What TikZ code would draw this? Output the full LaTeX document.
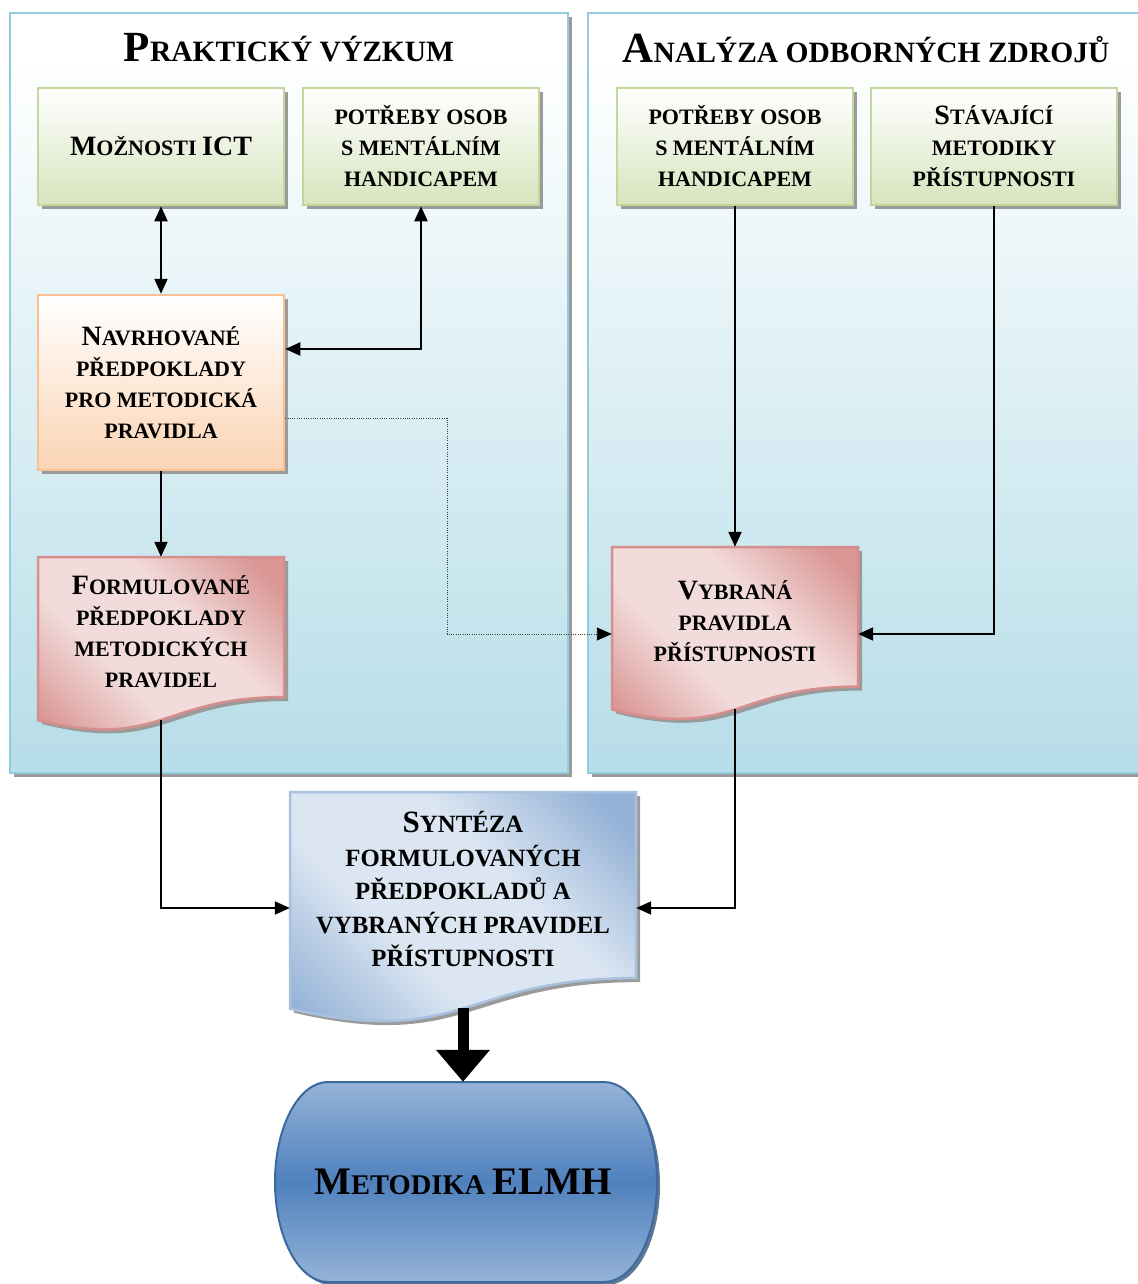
\documentclass[tikz,border=0pt]{standalone}
\usepackage{fontspec}
\setmainfont{Liberation Serif}
\usetikzlibrary{arrows.meta,calc,shadows}

\definecolor{panelB}{HTML}{B6DDE8}
\definecolor{panelD}{HTML}{93CDDD}
\definecolor{greenB}{HTML}{D7E4BD}
\definecolor{greenD}{HTML}{C3D69B}
\definecolor{orangeB}{HTML}{FBD4B4}
\definecolor{orangeD}{HTML}{FAC090}
\definecolor{pinkL}{HTML}{F2DCDB}
\definecolor{pinkD}{HTML}{D99694}
\definecolor{pinkE}{HTML}{D68F8D}
\definecolor{blueL}{HTML}{DCE6F2}
\definecolor{blueD}{HTML}{95B3D7}
\definecolor{blueE}{HTML}{A9C1DE}
\definecolor{elmhL}{HTML}{95B3D7}
\definecolor{elmhD}{HTML}{4F81BD}
\definecolor{elmhE}{HTML}{3D6A9E}
\definecolor{shd}{HTML}{9A9A9A}

\pgfdeclarehorizontalshading{pinkrefl}{100bp}{color(0bp)=(pinkD); color(20bp)=(pinkD); color(40bp)=(pinkL); color(60bp)=(pinkL); color(80bp)=(pinkD); color(100bp)=(pinkD)}
\pgfdeclarehorizontalshading{bluerefl}{100bp}{color(0bp)=(blueD); color(20bp)=(blueD); color(40bp)=(blueL); color(60bp)=(blueL); color(80bp)=(blueD); color(100bp)=(blueD)}
\pgfdeclareverticalshading{panelfill}{100bp}{color(0bp)=(panelB); color(25bp)=(panelB); color(72bp)=(white); color(100bp)=(white)}

% fake small caps: capital letters at full size
\newcommand\Bc[1]{{\fontsize{28}{31}\selectfont #1}}
\newcommand\Tb[1]{{\fontsize{43}{48}\selectfont #1}}
\newcommand\Sb[1]{{\fontsize{31}{34}\selectfont #1}}
\newcommand\Eb[1]{{\fontsize{39}{44}\selectfont #1}}

\begin{document}
\begin{tikzpicture}[x=1pt,y=1pt,
  tip/.style={Triangle[length=15pt,width=13pt]},
  conn/.style={line width=2pt, -{Triangle[length=15pt,width=13pt]}},
  conntwo/.style={line width=2pt, {Triangle[length=15pt,width=13pt]}-{Triangle[length=15pt,width=13pt]}},
  dotconn/.style={line width=0.9pt, draw=black!75, dash pattern=on 1pt off 1.3pt,
    -{Triangle[length=15pt,width=13pt,color=black]}},
  bigarrow/.style={line width=11pt, -{Triangle[length=32pt,width=52pt]}},
  txt/.style={font=\fontsize{22}{31}\selectfont\bfseries, align=center, inner sep=0pt},
  ttl/.style={font=\fontsize{29.5}{34}\selectfont\bfseries, inner sep=0pt},
  greenbox/.style={txt, draw=greenD, line width=2.5pt, top color=white, bottom color=greenB,
    minimum height=117pt, general shadow={fill=shd, shadow xshift=4pt, shadow yshift=-4pt}},
  navbox/.style={txt, draw=orangeD, line width=2.5pt, top color=white, bottom color=orangeB,
    general shadow={fill=shd, shadow xshift=4pt, shadow yshift=-4pt}},
  panelbox/.style={shading=panelfill},
  docpath/.style n args={4}{insert path={(#1,-#2) -- ({#1+#3},-#2) -- ({#1+#3},{-#2-0.802*#4})
    .. controls ({#1+#3/2},{-#2-0.802*#4}) and ({#1+#3/2},{-#2-1.1075*#4}) .. (#1,{-#2-0.934*#4}) -- cycle}},
  elmhpath/.style={insert path={(328,-1082) -- (604,-1082)
    arc[start angle=90, end angle=-90, x radius=53, y radius=100] -- (328,-1282)
    arc[start angle=270, end angle=90, x radius=53, y radius=100] -- cycle}}
]
\useasboundingbox (0,0) rectangle (1137,-1284);
\fill[white] (0,0) rectangle (1137,-1284);

% the two panels
\fill[shd] (14,-17) rectangle (572,-777);
\shade[panelbox] (10,-13) rectangle (568,-773);
\draw[panelD, line width=2.5pt] (10,-13) rectangle (568,-773);
\fill[shd] (592,-17) rectangle (1160,-777);
\shade[panelbox] (588,-13) rectangle (1156,-773);
\draw[panelD, line width=2.5pt] (588,-13) rectangle (1156,-773);

\node[ttl] (ttlL) at (289,-48) {\Tb{P}RAKTICKÝ VÝZKUM};
\node[ttl] (ttlR) at (866,-48) {\Tb{A}NALÝZA ODBORNÝCH ZDROJŮ};

% input boxes
\node[greenbox, minimum width=246pt] (ict) at (161,-146.5) {\Bc{M}OŽNOSTI \Bc{ICT}};
\node[greenbox, minimum width=236pt] (potL) at (421,-146.5) {POTŘEBY OSOB\\S MENTÁLNÍM\\HANDICAPEM};
\node[greenbox, minimum width=236pt] (potR) at (735,-146.5) {POTŘEBY OSOB\\S MENTÁLNÍM\\HANDICAPEM};
\node[greenbox, minimum width=246pt] (stav) at (994,-146.5) {\Bc{S}TÁVAJÍCÍ\\METODIKY\\PŘÍSTUPNOSTI};

\node[navbox, minimum width=246pt, minimum height=175pt] (nav) at (161,-382.5)
  {\Bc{N}AVRHOVANÉ\\PŘEDPOKLADY\\PRO METODICKÁ\\PRAVIDLA};

% document shapes
\fill[shd, shift={(4,-4)}, docpath={38}{557}{246}{174.6}];
\shade[shading=pinkrefl, shading angle=45, docpath={38}{557}{246}{174.6}];
\draw[pinkE, line width=2.5pt, docpath={38}{557}{246}{174.6}];
\node[txt, minimum width=246pt, minimum height=149pt] (form) at (161,-631.5)
  {\Bc{F}ORMULOVANÉ\\PŘEDPOKLADY\\METODICKÝCH\\PRAVIDEL};
\coordinate (formB) at (161,-720);

\fill[shd, shift={(4,-4)}, docpath={612}{547}{246}{174}];
\shade[shading=pinkrefl, shading angle=45, docpath={612}{547}{246}{174}];
\draw[pinkE, line width=2.5pt, docpath={612}{547}{246}{174}];
\node[txt, minimum width=246pt, minimum height=148pt] (vyb) at (735,-621)
  {\Bc{V}YBRANÁ\\PRAVIDLA\\PŘÍSTUPNOSTI};
\coordinate (vybB) at (735,-709);

\fill[shd, shift={(4,-4)}, docpath={290}{792}{346}{232}];
\shade[shading=bluerefl, shading angle=45, docpath={290}{792}{346}{232}];
\draw[blueE, line width=2.5pt, docpath={290}{792}{346}{232}];
\node[txt, font=\fontsize{24.8}{33.5}\selectfont\bfseries, minimum width=346pt, minimum height=194pt] (synt) at (463,-889)
  {\Sb{S}YNTÉZA\\FORMULOVANÝCH\\PŘEDPOKLADŮ A\\VYBRANÝCH PRAVIDEL\\PŘÍSTUPNOSTI};
\coordinate (syntB) at (463,-1008);

% final result
\fill[elmhE!70!black, opacity=0.75, shift={(3,-3)}, elmhpath];
\shade[top color=elmhL, bottom color=elmhL, middle color=elmhD, elmhpath];
\draw[elmhE, line width=2pt, elmhpath];
\node[txt, font=\fontsize{28.5}{34}\selectfont\bfseries, minimum width=382pt, minimum height=200pt] (elmh) at (463,-1182)
  {\Eb{M}ETODIKA \Eb{ELMH}};

% connectors
\coordinate (dotbend) at (447,-520);
\draw[conntwo] (ict.south) -- (nav.north);
\draw[conntwo] (potL.south) |- ([yshift=33.5pt]nav.east);
\draw[conn] (nav.south) -- (form.north);
\draw[dotconn] ([yshift=-35.5pt]nav.east) -| (dotbend) |- ([yshift=-13pt]vyb.west);
\draw[conn] (potR.south) -- (vyb.north);
\draw[conn] (stav.south) |- ([yshift=-13pt]vyb.east);
\draw[conn] (formB) |- ([yshift=-19pt]synt.west);
\draw[conn] (vybB) |- ([yshift=-19pt]synt.east);
\draw[bigarrow] (syntB) -- (elmh.north);
\end{tikzpicture}
\end{document}
